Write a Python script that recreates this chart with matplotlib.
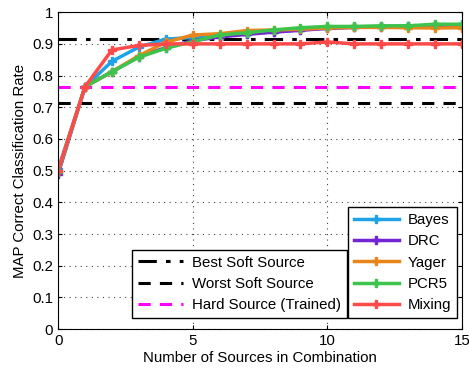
import matplotlib
matplotlib.use('Agg')
import matplotlib.pyplot as plt
import numpy as np

plt.rcParams['font.family'] = ['Liberation Sans', 'DejaVu Sans']

# Veriler
n_sources = list(range(0, 16))
bayes = [0.505, 0.765, 0.845, 0.89, 0.915, 0.92, 0.926, 0.932, 0.938, 0.944, 0.95, 0.953, 0.955, 0.956, 0.958, 0.96]
drc = [0.49, 0.765, 0.812, 0.86, 0.888, 0.91, 0.922, 0.93, 0.937, 0.943, 0.949, 0.952, 0.954, 0.955, 0.957, 0.959]
yager = [0.5, 0.765, 0.812, 0.863, 0.905, 0.928, 0.932, 0.942, 0.944, 0.946, 0.95, 0.952, 0.952, 0.951, 0.95, 0.951]
pcr5 = [0.495, 0.765, 0.812, 0.858, 0.886, 0.907, 0.928, 0.935, 0.944, 0.951, 0.955, 0.955, 0.957, 0.957, 0.962, 0.962]
mixing = [0.5, 0.765, 0.881, 0.895, 0.9, 0.9, 0.9, 0.9, 0.9, 0.9, 0.906, 0.9, 0.9, 0.9, 0.9, 0.9]

best_soft = 0.914
worst_soft = 0.713
hard_trained = 0.763

series = [
    ('Bayes', bayes, '#1fa3e6'),
    ('DRC', drc, '#7524d4'),
    ('Yager', yager, '#e8861c'),
    ('PCR5', pcr5, '#3ec44c'),
    ('Mixing', mixing, '#ff4a4a'),
]

FS = 10.8

fig = plt.figure(figsize=(4.69, 3.69), dpi=100)
ax = fig.add_axes([0.124, 0.108, 0.861, 0.859])

h1 = ax.axhline(best_soft, color='black', linestyle=(0, (6, 3, 1.5, 3)), linewidth=2.2)
h2 = ax.axhline(worst_soft, color='black', linestyle=(0, (4, 3)), linewidth=2.2)
h3 = ax.axhline(hard_trained, color='magenta', linestyle=(0, (4, 3)), linewidth=2.2)

handles = []
for name, vals, color in series:
    ln, = ax.plot(n_sources, vals, color=color, linewidth=2.5, marker='P',
                  markersize=6, label=name)
    handles.append(ln)

ax.set_xlim(0, 15)
ax.set_ylim(0, 1)
ax.set_xticks([0, 5, 10, 15])
ax.set_yticks(np.arange(0, 1.01, 0.1))
ax.set_yticklabels(['0', '0.1', '0.2', '0.3', '0.4', '0.5', '0.6', '0.7', '0.8', '0.9', '1'])
ax.tick_params(direction='in', top=True, right=True, labelsize=FS, length=3)
ax.grid(True, linestyle=(0, (1, 4)), color='#444444', linewidth=0.8)
ax.set_xlabel('Number of Sources in Combination', fontsize=FS, labelpad=2)
ax.set_ylabel('MAP Correct Classification Rate', fontsize=FS)

leg1 = ax.legend(handles=handles, loc='lower right', bbox_to_anchor=(0.988, 0.035),
                 fancybox=False, framealpha=1, edgecolor='black', fontsize=FS,
                 borderaxespad=0, handlelength=3, labelspacing=0.48,
                 borderpad=0.4, handletextpad=0.6)
leg1.get_frame().set_linewidth(1.0)
ax.add_artist(leg1)

leg2 = ax.legend([h1, h2, h3], ['Best Soft Source', 'Worst Soft Source', 'Hard Source (Trained)'],
                 loc='lower right', bbox_to_anchor=(0.715, 0.035),
                 fancybox=False, framealpha=1, edgecolor='black', fontsize=FS,
                 borderaxespad=0, handlelength=3, labelspacing=0.48,
                 borderpad=0.4, handletextpad=0.6)
leg2.get_frame().set_linewidth(1.0)

plt.savefig('out.png', dpi=100)
plt.close()
